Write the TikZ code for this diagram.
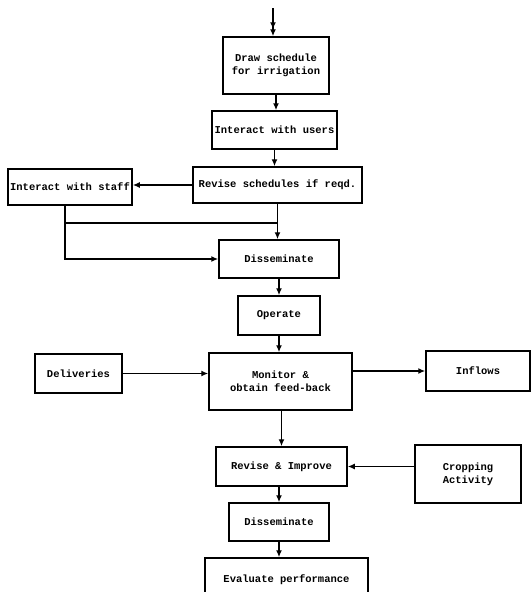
\documentclass[tikz,border=0pt]{standalone}
\usepackage{fontspec}
\setmonofont{Liberation Mono}
\usetikzlibrary{arrows.meta}

\tikzset{
  box/.style={draw, line width=1.5pt, align=center, inner sep=2pt,
    font=\ttfamily\bfseries\fontsize{10.5}{13}\selectfont},
  arr/.style={line width=1.5pt, -{Latex[length=7pt,width=6pt]}},
  ln/.style={line width=1.5pt},
}

\begin{document}
\begin{tikzpicture}[x=1pt,y=-1pt]
\useasboundingbox (0,0) rectangle (532,592);

\node[box, minimum width=106pt, minimum height=57pt] (draw) at (276,65.5) {Draw schedule\\for irrigation};
\node[box, minimum width=125pt, minimum height=38pt] (users) at (274.5,130) {Interact with users};
\node[box, minimum width=169pt, minimum height=36pt] (revsch) at (277.5,185) {Revise schedules if reqd.};
\node[box, minimum width=124pt, minimum height=36pt] (staff) at (70,187) {Interact with staff};
\node[box, minimum width=120pt, minimum height=38pt] (diss1) at (279,259) {Disseminate};
\node[box, minimum width=82pt, minimum height=39pt] (operate) at (279,315.5) {Operate};
\node[box, minimum width=143pt, minimum height=57pt] (monitor) at (280.5,381.5) {Monitor \&\\obtain feed-back};
\node[box, minimum width=87pt, minimum height=39pt] (deliv) at (78.5,373.5) {Deliveries};
\node[box, minimum width=104pt, minimum height=40pt] (inflows) at (478,371) {Inflows};
\node[box, minimum width=131pt, minimum height=39pt] (revimp) at (281.5,466.5) {Revise \& Improve};
\node[box, minimum width=106pt, minimum height=58pt] (crop) at (468,474) {Cropping\\Activity};
\node[box, minimum width=100pt, minimum height=38pt] (diss2) at (279,522) {Disseminate};
\node[box, minimum width=163pt, minimum height=44pt] (eval) at (286.5,580) {Evaluate performance};

\coordinate (start) at (273,8);
\coordinate (join) at (65,223);

\draw[line width=1.5pt, -{Latex[length=7pt,width=6pt] Latex[length=7pt,width=6pt]}] (start) -- (start |- draw.north);
\draw[arr] (draw.south) -- (draw.south |- users.north);
\draw[arr] (users.south) -- (users.south |- revsch.north);
\draw[arr] (revsch.west) -- (staff.east |- revsch.west);
\draw[arr] (revsch.south) -- (revsch.south |- diss1.north);
\draw[ln] (staff.south -| join) -- (join) -- (join -| revsch.south);
\draw[arr] (join) |- (diss1.west);
\draw[arr] (diss1.south) -- (diss1.south |- operate.north);
\draw[arr] (operate.south) -- (operate.south |- monitor.north);
\draw[arr] (deliv.east) -- (monitor.west |- deliv.east);
\draw[arr] (monitor.east |- inflows.west) -- (inflows.west);
\draw[arr] (monitor.south -| revimp.north) -- (revimp.north);
\draw[arr] (crop.west |- revimp.east) -- (revimp.east);
\draw[arr] (revimp.south -| diss2.north) -- (diss2.north);
\draw[arr] (diss2.south) -- (diss2.south |- eval.north);

\end{tikzpicture}
\end{document}
